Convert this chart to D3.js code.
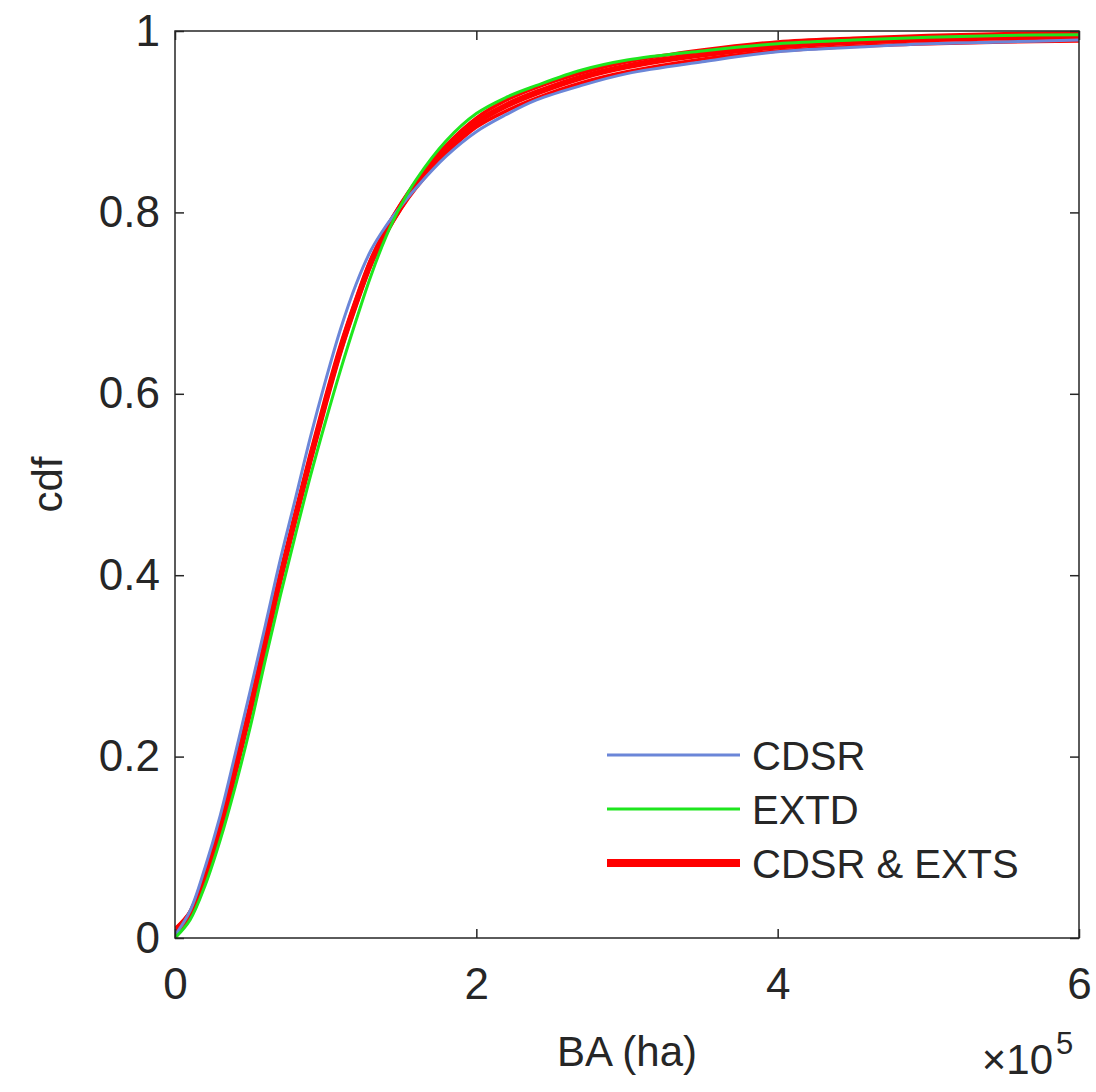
<!DOCTYPE html>
<html><head><meta charset="utf-8">
<script src="https://cdn.jsdelivr.net/npm/d3@7"></script>
<style>body{margin:0;background:#fff}svg{display:block}text{font-family:"Liberation Sans",Arial,sans-serif;fill:#262626}</style>
</head><body>
<script>
// BA values (x 1e5 ha)
const baValues = [0,0.1,0.2,0.3,0.4,0.5,0.6,0.7,0.8,0.9,1.0,1.1,1.2,1.3,1.4,1.5,1.6,1.8,2.0,2.2,2.4,2.7,3.0,3.5,4.0,4.5,5.0,5.5,6.0];
const cdfCDSR = [0.003,0.03,0.078,0.135,0.203,0.273,0.345,0.418,0.485,0.553,0.615,0.672,0.72,0.758,0.785,0.807,0.827,0.862,0.889,0.908,0.924,0.94,0.953,0.966,0.977,0.982,0.986,0.988,0.99];
const cdfEXTD = [0.0,0.02,0.058,0.108,0.167,0.233,0.307,0.378,0.445,0.51,0.57,0.627,0.68,0.73,0.773,0.808,0.836,0.879,0.909,0.927,0.94,0.957,0.968,0.978,0.986,0.99,0.993,0.995,0.996];
const cdfRedMid = [0.008,0.026,0.068,0.121,0.185,0.253,0.326,0.398,0.465,0.53,0.592,0.65,0.7,0.745,0.779,0.807,0.831,0.87,0.899,0.918,0.932,0.949,0.961,0.974,0.983,0.988,0.991,0.993,0.994];
const cdfRedHigh = [0.01,0.029,0.071,0.124,0.188,0.256,0.329,0.401,0.468,0.533,0.595,0.653,0.703,0.748,0.782,0.81,0.834,0.874,0.904,0.924,0.938,0.954,0.966,0.979,0.988,0.992,0.995,0.997,0.998];
const cdfRedLow = [0.006,0.023,0.065,0.118,0.182,0.25,0.323,0.395,0.462,0.527,0.589,0.647,0.697,0.742,0.776,0.804,0.827,0.865,0.894,0.912,0.926,0.943,0.955,0.969,0.978,0.983,0.986,0.988,0.989];
const xTicks = [0,2,4,6];
const xTickLabels = ["0","2","4","6"];
const yTicks = [0,0.2,0.4,0.6,0.8,1];
const yTickLabels = ["0","0.2","0.4","0.6","0.8","1"];
const legendLabels = ["CDSR","EXTD","CDSR & EXTS"];

const W=1096,H=1092;
const L=175,R=1079,T=31,B=938;
const svg=d3.select("body").append("svg").attr("width",W).attr("height",H);
const x=d3.scaleLinear().domain([0,6]).range([L,R]);
const y=d3.scaleLinear().domain([0,1]).range([B,T]);

svg.append("clipPath").attr("id","c").append("rect").attr("x",L).attr("y",T-4).attr("width",R-L+4).attr("height",B-T+4);
const line=d3.line().x((d,i)=>x(baValues[i])).y(d=>y(d)).curve(d3.curveCatmullRom.alpha(0.5));
const g=svg.append("g").attr("clip-path","url(#c)");
const red="#ff0000", blue="#6b86d8", green="#1ee61e";
[cdfRedLow,cdfRedHigh,cdfRedMid].forEach((s,k)=>{
  g.append("path").attr("d",line(s)).attr("fill","none").attr("stroke",red).attr("stroke-width",k==2?6:3.5).attr("stroke-linejoin","round");
});
g.append("path").attr("d",line(cdfCDSR)).attr("fill","none").attr("stroke",blue).attr("stroke-width",3);
g.append("path").attr("d",line(cdfEXTD)).attr("fill","none").attr("stroke",green).attr("stroke-width",3);

// axes
const FS=44;
const gb=svg.append("g").attr("transform",`translate(0,${B})`).call(d3.axisBottom(x).tickValues(xTicks).tickFormat((d,i)=>xTickLabels[i]).tickSizeInner(-9).tickSizeOuter(0).tickPadding(30));
const gt=svg.append("g").attr("transform",`translate(0,${T})`).call(d3.axisTop(x).tickValues(xTicks).tickFormat("").tickSizeInner(-9).tickSizeOuter(0));
const gl=svg.append("g").attr("transform",`translate(${L},0)`).call(d3.axisLeft(y).tickValues(yTicks).tickFormat((d,i)=>yTickLabels[i]).tickSizeInner(-9).tickSizeOuter(0).tickPadding(15));
const gr=svg.append("g").attr("transform",`translate(${R},0)`).call(d3.axisRight(y).tickValues(yTicks).tickFormat("").tickSizeInner(-9).tickSizeOuter(0));
[gb,gt,gl,gr].forEach(a=>{a.select(".domain").remove();a.selectAll("line").attr("stroke","#262626").attr("stroke-width",1.5);a.selectAll("text").attr("font-size",FS).attr("font-family","Liberation Sans, Arial, sans-serif").attr("fill","#262626");});
gb.selectAll("text").attr("dy","0.71em");
svg.append("rect").attr("x",L).attr("y",T).attr("width",R-L).attr("height",B-T).attr("fill","none").attr("stroke","#262626").attr("stroke-width",1.5);

// labels
svg.append("text").attr("x",(L+R)/2).attr("y",1066).attr("text-anchor","middle").attr("font-size",42).text("BA (ha)");
svg.append("text").attr("transform",`translate(62,${(T+B)/2}) rotate(-90)`).attr("text-anchor","middle").attr("font-size",42).text("cdf");
svg.append("text").attr("x",1053).attr("y",1074).attr("text-anchor","end").attr("font-size",42).text("×10");
svg.append("text").attr("x",1056).attr("y",1054).attr("font-size",31).text("5");

// legend
const legY=[755,809,863], legC=[blue,green,red], legW=[3,3,8];
legendLabels.forEach((t,i)=>{
  svg.append("line").attr("x1",607).attr("x2",740).attr("y1",legY[i]).attr("y2",legY[i]).attr("stroke",legC[i]).attr("stroke-width",legW[i]);
  svg.append("text").attr("x",752).attr("y",legY[i]+15).attr("font-size",40).text(t);
});
</script>
</body></html>
